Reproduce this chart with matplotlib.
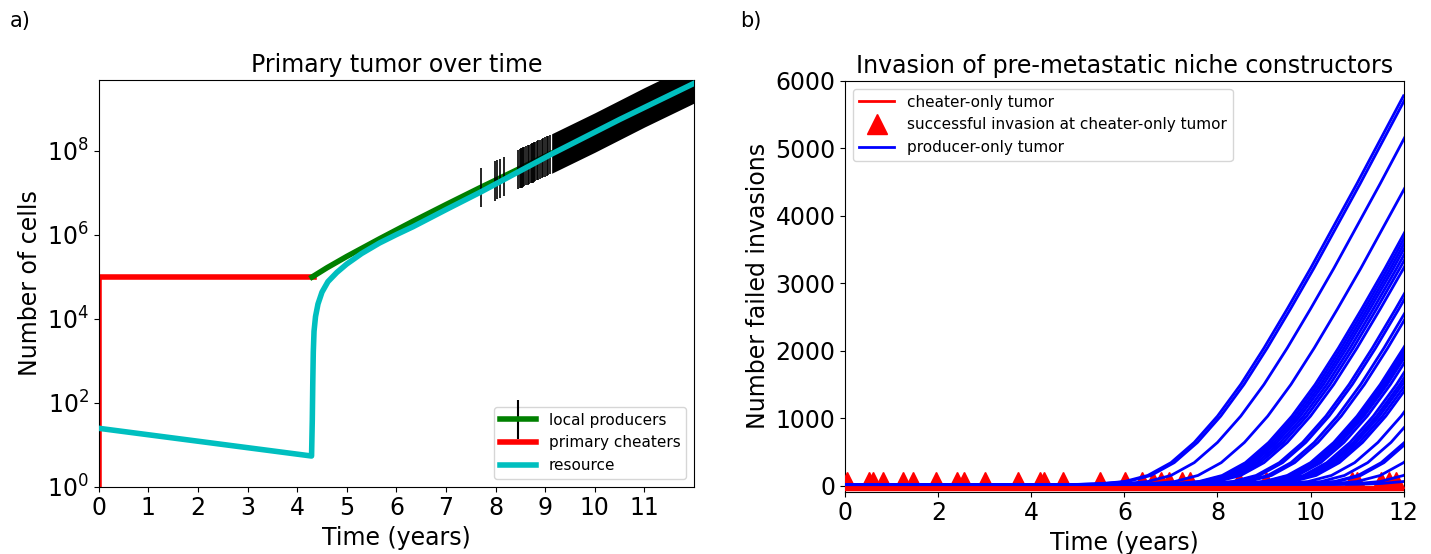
import numpy as np
import matplotlib
matplotlib.use("Agg")
import matplotlib.pyplot as plt
from matplotlib.legend_handler import HandlerErrorbar
from matplotlib.ticker import NullLocator
from matplotlib.lines import Line2D

# ---------------- Panel a data (log10 of cell numbers) ----------------
cheat_t = [0.0, 0.0, 4.33]
cheat_log = [0.0, 5.0, 5.0]

prod_t = [4.30, 4.6, 5.0, 5.66, 6.34, 7.01, 7.71, 8.5, 9.15, 10.5, 12.0]
prod_log = [4.99, 5.21, 5.48, 5.90, 6.32, 6.72, 7.13, 7.58, 7.95, 8.75, 9.60]

res_t = [0.0, 4.29, 4.305, 4.315, 4.325, 4.34, 4.37, 4.42, 4.5, 4.62, 4.8, 5.0, 5.3,
         5.66, 6.0, 6.34, 7.01, 7.71, 8.5, 9.15, 10.5, 12.0]
res_log = [1.39, 0.73, 1.6, 2.5, 3.2, 3.7, 4.05, 4.35, 4.63, 4.88, 5.10, 5.30, 5.55,
           5.80, 6.00, 6.19, 6.60, 7.02, 7.52, 7.93, 8.74, 9.60]

# sparse error bars (time, centre log10)
err_t = [7.71, 7.98, 8.03, 8.08, 8.17, 8.45, 8.49, 8.51, 8.53, 8.56, 8.58, 8.61, 8.65,
         8.67, 8.71, 8.73, 8.75, 8.78, 8.80, 8.83, 8.85, 8.89, 8.93, 8.96, 9.00,
         9.03, 9.06, 9.10]
err_mid = [7.12, 7.28, 7.31, 7.33, 7.38, 7.55, 7.57, 7.58, 7.59, 7.61, 7.62, 7.64, 7.66,
           7.67, 7.69, 7.70, 7.71, 7.73, 7.74, 7.76, 7.77, 7.79, 7.81, 7.83, 7.85,
           7.87, 7.88, 7.91]
err_half = 0.47  # half spread in decades

# dense error-bar band
band_t = [9.13, 10.0, 11.0, 12.0]
band_lo = [7.46, 7.96, 8.56, 9.13]
band_hi = [8.40, 8.90, 9.50, 10.07]

# ---------------- Panel b data ----------------
# earliest producer-only tumour curve (template shape)
tmpl_t = [-8.0, 4.0, 5.0, 5.5, 6.0, 6.5, 7.0, 7.5, 8.0, 8.5, 9.0, 9.5, 10.0, 11.0, 12.0]
tmpl_y = [8, 12, 18, 30, 60, 150, 340, 640, 1030, 1500, 2040, 2620, 3220, 4480, 5780]
# onset delay (years) of each producer-only curve relative to the template
prod_delay = [0.0, 0.07, 0.5, 1.08, 1.6, 1.66, 1.72, 1.78, 1.85, 1.92, 2.0, 2.33, 2.4,
              2.58, 2.66, 3.0, 3.05, 3.1, 3.15, 3.22, 3.35, 3.42, 3.48, 3.55, 3.62,
              3.95, 4.23, 4.52, 4.58, 5.0, 5.5, 6.0]

# cheater-only tumour curves (value at 0 and at 12 years)
cheat_y0 = [-45, -40, -35]
cheat_y12 = [-45, -38, -30]

# successful invasions at cheater-only tumour
succ_t = [0.04, 0.51, 0.59, 0.80, 1.24, 1.46, 1.95, 2.40, 2.55, 3.01, 3.72, 4.19, 4.28,
          4.67, 5.48, 6.02, 6.37, 6.61, 6.78, 6.95, 7.24, 7.41, 8.46, 9.05, 10.89,
          11.01, 11.51, 11.68, 11.83]
succ_y = [80] * len(succ_t)

FS = 17
plt.rcParams['font.family'] = ['DejaVu Sans']
fig = plt.figure(figsize=(14.31, 5.54), dpi=100)

# ---------------- Panel a ----------------
ax1 = fig.add_axes([0.069, 0.1215, 0.416, 0.7341])
ax1.set_yscale('log')
ax1.plot(cheat_t, 10 ** np.array(cheat_log), color='red', lw=4, zorder=2)
ax1.plot(prod_t, 10 ** np.array(prod_log), color='green', lw=4, zorder=3)
em = np.array(err_mid)
ax1.errorbar(err_t, 10 ** em, yerr=[10 ** em - 10 ** (em - err_half), 10 ** (em + err_half) - 10 ** em],
             fmt='none', ecolor='k', elinewidth=1.2, zorder=4)
ax1.fill_between(band_t, 10 ** np.array(band_lo), 10 ** np.array(band_hi), color='k', lw=0, zorder=4)
ax1.plot(res_t, 10 ** np.array(res_log), color='c', lw=4, zorder=5)

proxy = ax1.errorbar([np.nan], [np.nan], yerr=[[np.nan], [np.nan]], color='green', lw=4,
                     ecolor='k', elinewidth=1.5)
h_red = Line2D([], [], color='red', lw=4)
h_cyan = Line2D([], [], color='c', lw=4)
ax1.legend([proxy, h_red, h_cyan], ['local producers', 'primary cheaters', 'resource'],
           loc='lower right', fontsize=11, handlelength=2.4,
           handler_map={type(proxy): HandlerErrorbar(yerr_size=1.27)})
ax1.set_xlim(0, 12)
ax1.set_ylim(1, 10 ** 9.68)
ax1.set_xticks(range(0, 12))
ax1.set_yticks([1, 1e2, 1e4, 1e6, 1e8])
ax1.yaxis.set_minor_locator(NullLocator())
ax1.tick_params(labelsize=FS)
ax1.set_xlabel('Time (years)', fontsize=FS)
ax1.set_ylabel('Number of cells', fontsize=FS)
ax1.set_title('Primary tumor over time', fontsize=FS)

# ---------------- Panel b ----------------
ax2 = fig.add_axes([0.5908, 0.1128, 0.390, 0.741])
ax2.plot(succ_t, succ_y, linestyle='none', marker='^', color='red', ms=11, zorder=3)
for d in prod_delay:
    ax2.plot(np.array(tmpl_t) + d, tmpl_y, color='blue', lw=2, zorder=4)
for a, b in zip(cheat_y0, cheat_y12):
    ax2.plot([0, 12], [a, b], color='red', lw=2.5, zorder=5)
h1 = Line2D([], [], color='red', lw=2)
h2 = Line2D([], [], color='red', marker='^', linestyle='none', ms=14)
h3 = Line2D([], [], color='blue', lw=2)
ax2.legend([h1, h2, h3], ['cheater-only tumor', 'successful invasion at cheater-only tumor',
                          'producer-only tumor'], loc='upper left', fontsize=11, handlelength=2.3)
ax2.set_xlim(0, 12)
ax2.set_ylim(-88, 6000)
ax2.set_xticks(range(0, 13, 2))
ax2.set_yticks(range(0, 6001, 1000))
ax2.tick_params(labelsize=FS)
ax2.set_xlabel('Time (years)', fontsize=FS)
ax2.set_ylabel('Number failed invasions', fontsize=FS)
ax2.set_title('Invasion of pre-metastatic niche constructors', fontsize=FS)

fig.text(0.007, 0.962, 'a)', fontsize=15, va='center', ha='left')
fig.text(0.517, 0.962, 'b)', fontsize=15, va='center', ha='left')

fig.savefig('out.png', dpi=100)
